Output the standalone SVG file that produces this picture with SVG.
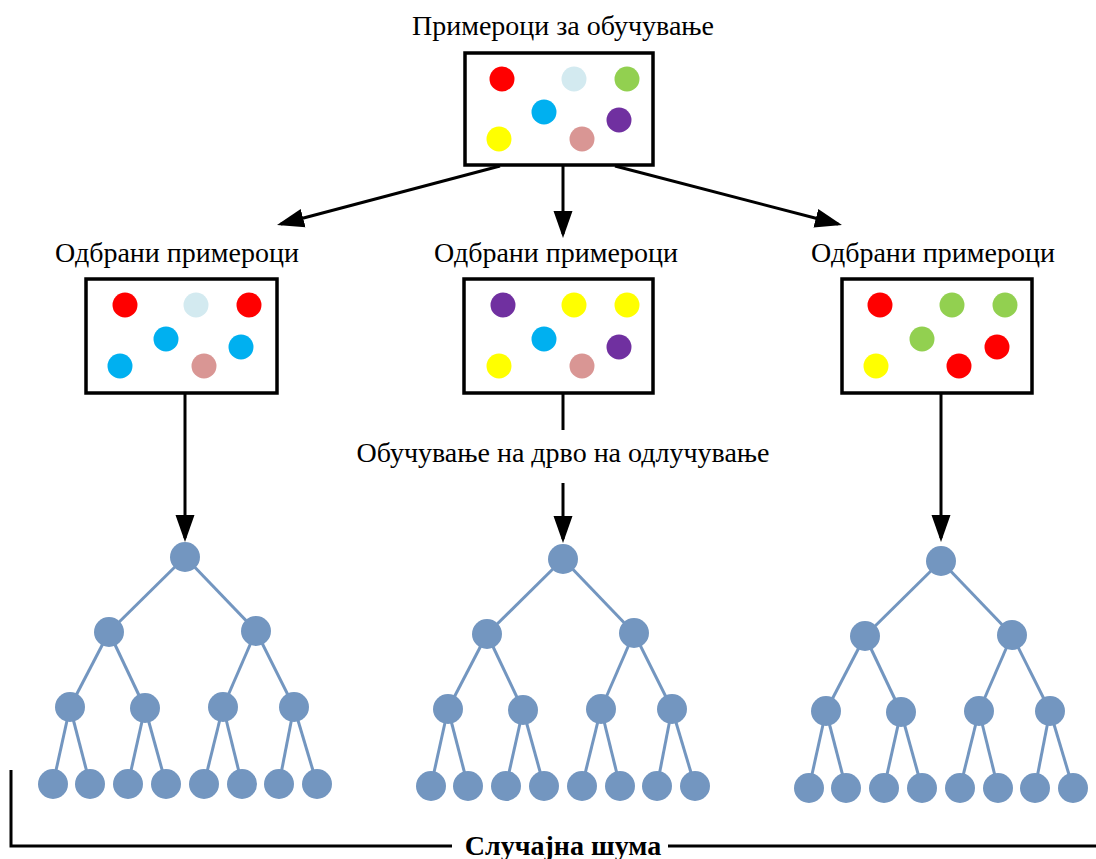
<svg xmlns="http://www.w3.org/2000/svg" width="1096" height="859" viewBox="0 0 1096 859">
  <defs>
    <style>
      .lbl { font-family: "Liberation Serif", "Times New Roman", serif; font-size: 28px; fill: #000; text-anchor: middle; }
      .ttl { font-family: "Liberation Serif", "Times New Roman", serif; font-size: 28px; font-weight: bold; fill: #000; text-anchor: middle; }
      .box { fill: #fff; stroke: #000; stroke-width: 3.5; }
      .wire { fill: none; stroke: #000; stroke-width: 3; }
      .edge { stroke: #7396C0; stroke-width: 3; }
      .tn { fill: #7396C0; }
      .red { fill: #FF0000; }
      .lblue { fill: #D3EAF0; }
      .green { fill: #92D050; }
      .cyan { fill: #00B0F0; }
      .purple { fill: #7030A0; }
      .yellow { fill: #FFFF00; }
      .pink { fill: #D99694; }
    </style>
    <marker id="arrow" markerUnits="userSpaceOnUse" markerWidth="28" markerHeight="20" refX="23" refY="10" orient="auto">
      <path d="M0,0.5 L27,10 L0,19.5 Z" fill="#000"/>
    </marker>
  </defs>
  <rect width="1096" height="859" fill="#fff"/>

  <!-- connectors -->
  <g id="connectors">
    <line class="wire" x1="500" y1="166" x2="280.9" y2="224" marker-end="url(#arrow)"/>
    <line class="wire" x1="563" y1="166" x2="563" y2="234" marker-end="url(#arrow)"/>
    <line class="wire" x1="615" y1="166" x2="838.1" y2="224" marker-end="url(#arrow)"/>
    <line class="wire" x1="185" y1="393" x2="185" y2="538" marker-end="url(#arrow)"/>
    <line class="wire" x1="563" y1="393" x2="563" y2="430"/>
    <line class="wire" x1="563" y1="483" x2="563" y2="539" marker-end="url(#arrow)"/>
    <line class="wire" x1="941" y1="393" x2="941" y2="538" marker-end="url(#arrow)"/>
    <text class="lbl" x="563" y="462">Обучување на дрво на одлучување</text>
  </g>

  <!-- full training set -->
  <g id="training-set">
    <text class="lbl" x="563" y="35">Примероци за обучување</text>
    <rect class="box" x="465" y="53" width="188" height="112"/>
    <circle class="red" cx="502" cy="79" r="12.5"/>
    <circle class="lblue" cx="574" cy="79" r="12.5"/>
    <circle class="green" cx="627" cy="79" r="12.5"/>
    <circle class="cyan" cx="544" cy="112" r="12.5"/>
    <circle class="purple" cx="619" cy="120" r="12.5"/>
    <circle class="yellow" cx="499" cy="139" r="12.5"/>
    <circle class="pink" cx="582" cy="139" r="12.5"/>
  </g>

  <!-- bootstrap samples -->
  <g id="sample-1">
    <text class="lbl" x="177" y="262">Одбрани примероци</text>
    <rect class="box" x="86" y="279" width="191" height="114"/>
    <circle class="red" cx="125" cy="305" r="12.5"/>
    <circle class="lblue" cx="196" cy="305" r="12.5"/>
    <circle class="red" cx="249" cy="305" r="12.5"/>
    <circle class="cyan" cx="166" cy="339" r="12.5"/>
    <circle class="cyan" cx="241" cy="347" r="12.5"/>
    <circle class="cyan" cx="120" cy="366" r="12.5"/>
    <circle class="pink" cx="204" cy="366" r="12.5"/>
  </g>
  <g id="sample-2">
    <text class="lbl" x="556" y="262">Одбрани примероци</text>
    <rect class="box" x="464" y="279" width="189" height="114"/>
    <circle class="purple" cx="503" cy="305" r="12.5"/>
    <circle class="yellow" cx="574" cy="305" r="12.5"/>
    <circle class="yellow" cx="627" cy="305" r="12.5"/>
    <circle class="cyan" cx="544" cy="339" r="12.5"/>
    <circle class="purple" cx="619" cy="347" r="12.5"/>
    <circle class="yellow" cx="499" cy="366" r="12.5"/>
    <circle class="pink" cx="582" cy="366" r="12.5"/>
  </g>
  <g id="sample-3">
    <text class="lbl" x="933" y="262">Одбрани примероци</text>
    <rect class="box" x="842" y="279" width="190" height="114"/>
    <circle class="red" cx="880" cy="305" r="12.5"/>
    <circle class="green" cx="952" cy="305" r="12.5"/>
    <circle class="green" cx="1005" cy="305" r="12.5"/>
    <circle class="green" cx="922" cy="339" r="12.5"/>
    <circle class="red" cx="997" cy="347" r="12.5"/>
    <circle class="yellow" cx="876" cy="366" r="12.5"/>
    <circle class="red" cx="959" cy="366" r="12.5"/>
  </g>

  <!-- decision trees -->
  <g id="tree-1" transform="translate(185,557)">
    <g class="edge">
      <line x1="0" y1="0" x2="-76" y2="75"/><line x1="0" y1="0" x2="71" y2="74"/>
      <line x1="-76" y1="75" x2="-115" y2="150"/><line x1="-76" y1="75" x2="-40" y2="151"/>
      <line x1="71" y1="74" x2="38" y2="150"/><line x1="71" y1="74" x2="109" y2="150"/>
      <line x1="-115" y1="150" x2="-132" y2="227"/><line x1="-115" y1="150" x2="-95" y2="227"/>
      <line x1="-40" y1="151" x2="-57" y2="227"/><line x1="-40" y1="151" x2="-19" y2="227"/>
      <line x1="38" y1="150" x2="19" y2="227"/><line x1="38" y1="150" x2="57" y2="227"/>
      <line x1="109" y1="150" x2="94" y2="227"/><line x1="109" y1="150" x2="132" y2="227"/>
    </g>
    <g class="tn">
      <circle cx="0" cy="0" r="15"/>
      <circle cx="-76" cy="75" r="15"/><circle cx="71" cy="74" r="15"/>
      <circle cx="-115" cy="150" r="15"/><circle cx="-40" cy="151" r="15"/><circle cx="38" cy="150" r="15"/><circle cx="109" cy="150" r="15"/>
      <circle cx="-132" cy="227" r="15"/><circle cx="-95" cy="227" r="15"/><circle cx="-57" cy="227" r="15"/><circle cx="-19" cy="227" r="15"/>
      <circle cx="19" cy="227" r="15"/><circle cx="57" cy="227" r="15"/><circle cx="94" cy="227" r="15"/><circle cx="132" cy="227" r="15"/>
    </g>
  </g>
  <g id="tree-2" transform="translate(563,559)">
    <g class="edge">
      <line x1="0" y1="0" x2="-76" y2="75"/><line x1="0" y1="0" x2="71" y2="74"/>
      <line x1="-76" y1="75" x2="-115" y2="150"/><line x1="-76" y1="75" x2="-40" y2="151"/>
      <line x1="71" y1="74" x2="38" y2="150"/><line x1="71" y1="74" x2="109" y2="150"/>
      <line x1="-115" y1="150" x2="-132" y2="227"/><line x1="-115" y1="150" x2="-95" y2="227"/>
      <line x1="-40" y1="151" x2="-57" y2="227"/><line x1="-40" y1="151" x2="-19" y2="227"/>
      <line x1="38" y1="150" x2="19" y2="227"/><line x1="38" y1="150" x2="57" y2="227"/>
      <line x1="109" y1="150" x2="94" y2="227"/><line x1="109" y1="150" x2="132" y2="227"/>
    </g>
    <g class="tn">
      <circle cx="0" cy="0" r="15"/>
      <circle cx="-76" cy="75" r="15"/><circle cx="71" cy="74" r="15"/>
      <circle cx="-115" cy="150" r="15"/><circle cx="-40" cy="151" r="15"/><circle cx="38" cy="150" r="15"/><circle cx="109" cy="150" r="15"/>
      <circle cx="-132" cy="227" r="15"/><circle cx="-95" cy="227" r="15"/><circle cx="-57" cy="227" r="15"/><circle cx="-19" cy="227" r="15"/>
      <circle cx="19" cy="227" r="15"/><circle cx="57" cy="227" r="15"/><circle cx="94" cy="227" r="15"/><circle cx="132" cy="227" r="15"/>
    </g>
  </g>
  <g id="tree-3" transform="translate(941,561)">
    <g class="edge">
      <line x1="0" y1="0" x2="-76" y2="75"/><line x1="0" y1="0" x2="71" y2="74"/>
      <line x1="-76" y1="75" x2="-115" y2="150"/><line x1="-76" y1="75" x2="-40" y2="151"/>
      <line x1="71" y1="74" x2="38" y2="150"/><line x1="71" y1="74" x2="109" y2="150"/>
      <line x1="-115" y1="150" x2="-132" y2="227"/><line x1="-115" y1="150" x2="-95" y2="227"/>
      <line x1="-40" y1="151" x2="-57" y2="227"/><line x1="-40" y1="151" x2="-19" y2="227"/>
      <line x1="38" y1="150" x2="19" y2="227"/><line x1="38" y1="150" x2="57" y2="227"/>
      <line x1="109" y1="150" x2="94" y2="227"/><line x1="109" y1="150" x2="132" y2="227"/>
    </g>
    <g class="tn">
      <circle cx="0" cy="0" r="15"/>
      <circle cx="-76" cy="75" r="15"/><circle cx="71" cy="74" r="15"/>
      <circle cx="-115" cy="150" r="15"/><circle cx="-40" cy="151" r="15"/><circle cx="38" cy="150" r="15"/><circle cx="109" cy="150" r="15"/>
      <circle cx="-132" cy="227" r="15"/><circle cx="-95" cy="227" r="15"/><circle cx="-57" cy="227" r="15"/><circle cx="-19" cy="227" r="15"/>
      <circle cx="19" cy="227" r="15"/><circle cx="57" cy="227" r="15"/><circle cx="94" cy="227" r="15"/><circle cx="132" cy="227" r="15"/>
    </g>
  </g>

  <!-- forest bracket -->
  <g id="forest">
    <path class="wire" d="M11,770 V846 H452 M668,846 H1096"/>
    <text class="ttl" x="563" y="855">Случајна шума</text>
  </g>
</svg>
